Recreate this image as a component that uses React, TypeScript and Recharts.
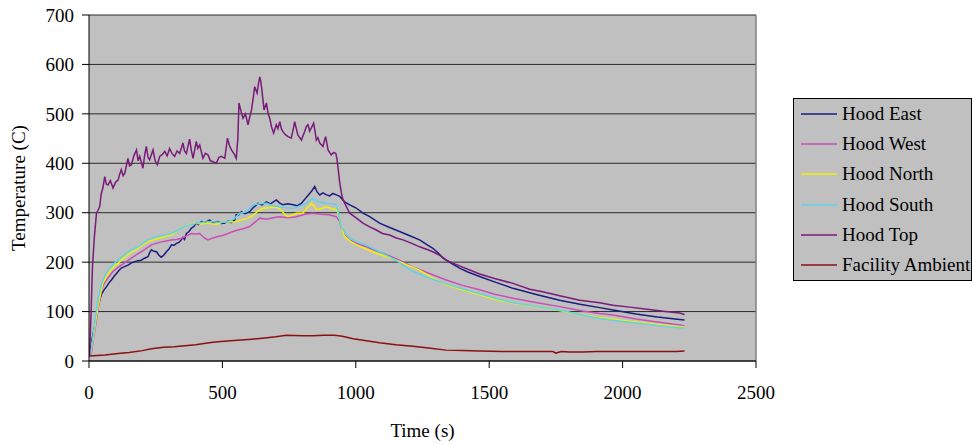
import React from 'react';
import { LineChart, Line, XAxis, YAxis, CartesianGrid, Legend, ReferenceLine, Label } from 'recharts';

const FONT = '"Liberation Serif", "Times New Roman", serif';

const xTicks = [0, 500, 1000, 1500, 2000, 2500];
const yTicks = [0, 100, 200, 300, 400, 500, 600, 700];

const hoodEast: [number, number][] = [
  [2, 12], [10, 40], [21, 69], [34, 110], [46, 134], [55, 143], [65, 150], [75, 158], [84, 164], [95, 172], [103, 177],
  [112, 183], [121, 188], [133, 191], [146, 194], [158, 198], [171, 201], [184, 203], [196, 204], [208, 208], [221, 211],
  [228, 220], [234, 225], [243, 222], [253, 221], [262, 214], [271, 210], [280, 214], [290, 221], [299, 226], [309, 235],
  [318, 234], [328, 238], [337, 240], [346, 245], [352, 250], [358, 246], [365, 258], [375, 262], [384, 269], [393, 272],
  [402, 279], [410, 276], [421, 282], [433, 280], [452, 285], [465, 280], [483, 282], [496, 278], [509, 279], [521, 283],
  [534, 280], [546, 285], [552, 296], [560, 295], [571, 302], [585, 298], [602, 302], [615, 310], [634, 319], [648, 316],
  [665, 322], [680, 318], [702, 326], [714, 320], [727, 316], [745, 318], [765, 316], [780, 314], [796, 319], [810, 328],
  [827, 339], [836, 345], [846, 353], [855, 342], [865, 336], [877, 340], [890, 336], [902, 334], [914, 339], [927, 336],
  [940, 333], [958, 322], [977, 316], [1000, 310], [1027, 299], [1052, 292], [1089, 279], [1127, 270], [1164, 262],
  [1200, 254], [1239, 245], [1265, 236], [1289, 228], [1310, 218], [1327, 208], [1360, 197], [1389, 188], [1420, 180],
  [1464, 171], [1520, 160], [1589, 147], [1680, 134], [1764, 123], [1840, 115], [1914, 108], [1964, 103], [2050, 95],
  [2130, 89], [2214, 84], [2232, 83],
];

const hoodWest: [number, number][] = [
  [4, 10], [9, 16], [18, 50], [28, 83], [37, 115], [46, 144], [55, 155], [65, 164], [78, 173], [90, 181], [105, 188],
  [121, 194], [140, 201], [159, 208], [178, 215], [196, 221], [215, 228], [234, 235], [252, 238], [271, 241], [290, 243],
  [309, 245], [328, 246], [346, 248], [365, 253], [384, 258], [400, 257], [415, 258], [430, 250], [446, 245], [465, 249],
  [483, 252], [500, 254], [521, 258], [540, 262], [558, 265], [580, 268], [602, 272], [620, 280], [640, 289], [665, 287],
  [690, 290], [715, 292], [745, 290], [777, 292], [810, 297], [839, 299], [870, 297], [900, 296], [927, 292], [940, 282],
  [946, 269], [958, 256], [977, 245], [1002, 238], [1040, 231], [1075, 223], [1102, 218], [1164, 204], [1214, 190],
  [1239, 185], [1290, 174], [1339, 164], [1400, 153], [1464, 144], [1520, 135], [1589, 127], [1680, 118], [1764, 110],
  [1850, 101], [1914, 96], [1964, 93], [2050, 85], [2130, 79], [2214, 73], [2232, 71],
];

const hoodNorth: [number, number][] = [
  [4, 10], [15, 43], [25, 80], [34, 110], [43, 135], [52, 157], [65, 170], [78, 181], [93, 190], [109, 198], [128, 207],
  [146, 215], [165, 222], [184, 228], [202, 235], [221, 241], [240, 245], [259, 248], [284, 252], [309, 255], [328, 262],
  [346, 269], [370, 274], [396, 279], [420, 277], [446, 279], [475, 276], [509, 282], [540, 281], [571, 285], [590, 288],
  [609, 292], [630, 302], [652, 309], [675, 310], [702, 312], [720, 305], [735, 296], [746, 292], [760, 295], [777, 299],
  [802, 299], [815, 308], [833, 319], [845, 312], [852, 306], [870, 308], [890, 312], [910, 308], [927, 306], [935, 298],
  [940, 285], [948, 268], [958, 252], [980, 242], [1002, 235], [1040, 226], [1077, 218], [1115, 211], [1152, 204],
  [1190, 195], [1239, 184], [1290, 167], [1339, 154], [1400, 144], [1464, 134], [1520, 125], [1589, 117], [1650, 112],
  [1714, 107], [1800, 98], [1914, 88], [2000, 82], [2100, 76], [2180, 71], [2232, 69],
];

const hoodSouth: [number, number][] = [
  [4, 10], [15, 49], [25, 90], [34, 123], [43, 148], [52, 164], [65, 178], [78, 188], [93, 197], [109, 204], [128, 213],
  [146, 221], [165, 226], [184, 231], [202, 238], [221, 245], [240, 249], [259, 252], [284, 255], [309, 258], [335, 265],
  [359, 272], [385, 276], [409, 279], [435, 281], [459, 282], [490, 280], [521, 282], [545, 288], [565, 299], [590, 302],
  [615, 316], [640, 318], [665, 319], [690, 314], [715, 312], [740, 310], [765, 309], [790, 313], [815, 319], [828, 325],
  [839, 329], [860, 322], [890, 319], [910, 318], [927, 316], [935, 300], [940, 285], [946, 272], [965, 255], [990, 245],
  [1020, 238], [1052, 231], [1089, 221], [1150, 204], [1214, 181], [1280, 167], [1339, 156], [1400, 146], [1464, 136],
  [1530, 126], [1589, 118], [1680, 110], [1764, 103], [1850, 93], [1914, 86], [2000, 80], [2100, 74], [2180, 69],
  [2232, 67],
];

const hoodTop: [number, number][] = [
  [2, 12], [8, 100], [13, 191], [20, 250], [28, 299], [34, 305], [40, 312], [46, 339], [52, 350], [59, 373], [65, 358],
  [71, 356], [80, 365], [90, 350], [100, 362], [109, 366], [115, 378], [121, 387], [128, 375], [134, 380], [146, 410],
  [152, 395], [159, 397], [168, 415], [178, 427], [184, 405], [190, 414], [202, 390], [209, 418], [215, 434], [221, 412],
  [227, 407], [240, 427], [248, 405], [256, 397], [265, 414], [275, 418], [284, 424], [293, 415], [302, 430], [311, 420],
  [321, 414], [330, 425], [340, 420], [352, 441], [358, 425], [365, 420], [377, 449], [384, 425], [390, 410], [402, 444],
  [408, 430], [415, 437], [427, 410], [436, 420], [446, 417], [455, 405], [465, 403], [477, 400], [487, 412], [496, 414],
  [509, 410], [519, 451], [527, 435], [534, 427], [545, 418], [552, 410], [558, 451], [562, 522], [570, 505], [577, 491],
  [586, 500], [596, 478], [603, 495], [609, 508], [615, 530], [621, 555], [630, 542], [635, 560], [640, 575], [644, 565],
  [648, 548], [656, 508], [665, 522], [671, 501], [678, 490], [684, 474], [692, 461], [702, 478], [708, 470], [715, 484],
  [721, 470], [727, 464], [736, 458], [746, 454], [758, 451], [764, 465], [771, 484], [777, 470], [783, 457], [790, 452],
  [796, 447], [808, 464], [815, 475], [821, 478], [827, 465], [833, 471], [842, 481], [848, 462], [852, 447], [858, 452],
  [865, 441], [877, 434], [882, 445], [887, 454], [896, 427], [902, 422], [908, 417], [918, 422], [925, 420], [929, 410],
  [933, 393], [940, 360], [946, 340], [952, 326], [965, 312], [977, 299], [1000, 290], [1027, 279], [1050, 272],
  [1077, 265], [1100, 258], [1127, 255], [1152, 249], [1177, 245], [1210, 238], [1239, 231], [1270, 225], [1289, 221],
  [1320, 212], [1339, 204], [1364, 198], [1400, 190], [1432, 183], [1464, 176], [1520, 167], [1589, 157], [1652, 145],
  [1700, 140], [1764, 132], [1839, 123], [1914, 118], [1964, 113], [2027, 109], [2100, 104], [2160, 100], [2214, 97],
  [2232, 94],
];

const facilityAmbient: [number, number][] = [
  [0, 10], [30, 11], [60, 12], [109, 15], [150, 17], [200, 21], [234, 25], [280, 28], [320, 29], [359, 31], [400, 33],
  [450, 37], [483, 39], [530, 41], [609, 44], [650, 46], [700, 49], [740, 52], [800, 51], [839, 51], [880, 52], [920, 52],
  [950, 50], [990, 45], [1040, 41], [1089, 37], [1150, 33], [1214, 30], [1280, 26], [1339, 22], [1400, 21], [1464, 20],
  [1550, 19], [1650, 19], [1739, 19], [1750, 16], [1770, 19], [1800, 18], [1850, 18], [1902, 19], [2000, 19], [2100, 19],
  [2200, 19], [2232, 20],
];

const seriesNames = ['Hood East', 'Hood West', 'Hood North', 'Hood South', 'Hood Top', 'Facility Ambient'];
const seriesColors = ['#1c1c80', '#cc4cb8', '#f2f200', '#5ed2e6', '#7a1a7a', '#8b1010'];
const seriesValues = [hoodEast, hoodWest, hoodNorth, hoodSouth, hoodTop, facilityAmbient];

const series = seriesNames.map((name, i) => ({
  name,
  color: seriesColors[i],
  data: seriesValues[i].map(([t, v]) => ({ t, v })),
}));

const LegendBox = () => (
  <div
    style={{
      width: 179,
      height: 183,
      boxSizing: 'border-box',
      background: '#C0C0C0',
      border: '1px solid #000',
      fontFamily: FONT,
      fontSize: 19,
      color: '#000',
    }}
  >
    {series.map((s) => (
      <div key={s.name} style={{ height: 30.2, display: 'flex', alignItems: 'center', whiteSpace: 'nowrap' }}>
        <svg width={36} height={4} style={{ marginLeft: 7, marginRight: 5, flex: 'none' }}>
          <line x1={0} y1={2} x2={36} y2={2} stroke={s.color} strokeWidth={1.5} />
        </svg>
        <span>{s.name}</span>
      </div>
    ))}
  </div>
);

const YLabel = (props: any) => {
  const vb = props.viewBox || { x: 0, y: 15, width: 89, height: 346 };
  const x = vb.x + 18;
  const y = vb.y + vb.height / 2;
  return (
    <text
      x={x}
      y={y}
      transform={`rotate(-90 ${x} ${y})`}
      textAnchor="middle"
      dominantBaseline="central"
      fontFamily={FONT}
      fontSize={19}
      fill="#000"
    >
      Temperature (C)
    </text>
  );
};

export default function App() {
  const tickStyle = { fill: '#000', fontSize: 19, fontFamily: FONT };
  return (
    <div style={{ position: 'absolute', left: 0, top: 0, width: 972, height: 444, background: '#fff' }}>
      <LineChart width={972} height={444} margin={{ top: 15, right: 216, bottom: 0, left: 0 }}>
        <CartesianGrid horizontal vertical={false} stroke="#2a2a2a" fill="#C0C0C0" fillOpacity={1} />
        <ReferenceLine x={2500} stroke="#808080" strokeWidth={1.5} />
        <XAxis
          type="number"
          dataKey="t"
          domain={[0, 2500]}
          ticks={xTicks}
          interval={0}
          allowDataOverflow
          height={83}
          stroke="#000"
          tickLine={{ stroke: '#000' }}
          tick={tickStyle}
          tickSize={7}
          tickMargin={18}
        >
          <Label value="Time (s)" position="insideBottom" offset={7} style={{ fontSize: 19, fontFamily: FONT, fill: '#000' }} />
        </XAxis>
        <YAxis
          type="number"
          domain={[0, 700]}
          ticks={yTicks}
          interval={0}
          allowDataOverflow
          width={89}
          stroke="#000"
          tickLine={{ stroke: '#000' }}
          tick={tickStyle}
          tickSize={7}
          tickMargin={8}
        >
          <Label content={YLabel} />
        </YAxis>
        {series.map((s) => (
          <Line
            key={s.name}
            data={s.data}
            dataKey="v"
            name={s.name}
            type="linear"
            stroke={s.color}
            strokeWidth={1.5}
            dot={false}
            isAnimationActive={false}
          />
        ))}
        <Legend
          layout="vertical"
          align="center"
          verticalAlign="middle"
          wrapperStyle={{ left: 793, top: 98, width: 179, height: 183 }}
          content={() => <LegendBox />}
        />
      </LineChart>
    </div>
  );
}
